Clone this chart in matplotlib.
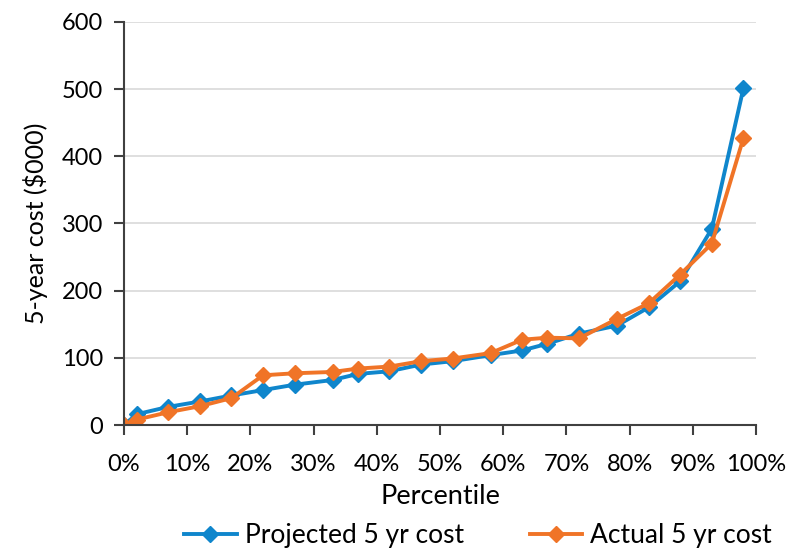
import numpy as np
import matplotlib.pyplot as plt
from matplotlib.ticker import PercentFormatter

# data
percentile = [0, 2, 7, 12, 17, 22, 27, 33, 37, 42, 47, 52, 58, 63, 67, 72, 78, 83, 88, 93, 98]
projected = [0, 16, 27, 35, 44, 52, 60, 67, 76, 80, 90, 95, 104, 111, 121, 136, 148, 175, 214, 292, 501]
actual = [0, 8, 19, 28, 40, 74, 77, 79, 84, 87, 95, 99, 107, 127, 130, 129, 158, 181, 224, 270, 427]

plt.rcParams['font.family'] = ['Lato', 'DejaVu Sans']

fig = plt.figure(figsize=(7.94, 5.52), dpi=100)
ax = fig.add_axes([124/794, 1 - 425/552, (756-124)/794, (425-22)/552])

blue = '#0F86CC'
orange = '#F07427'
ax.plot(percentile, projected, color=blue, lw=2.8, marker='D', ms=8, label='Projected 5 yr cost')
ax.plot(percentile, actual, color=orange, lw=2.8, marker='D', ms=8, label='Actual 5 yr cost')

ax.set_xlim(0, 100)
ax.set_ylim(0, 600)
ax.set_xticks(np.arange(0, 101, 10))
ax.set_yticks(np.arange(0, 601, 100))
ax.xaxis.set_major_formatter(PercentFormatter(decimals=0))
ax.yaxis.grid(True, color='#D9D9D9', lw=1.2)
ax.set_axisbelow(True)
for s in ['top', 'right']:
    ax.spines[s].set_visible(False)
for s in ['left', 'bottom']:
    ax.spines[s].set_color('#404040')
    ax.spines[s].set_linewidth(1.5)
ax.tick_params(axis='both', colors='#404040', labelcolor='black', labelsize=17, length=7, width=1.5)
ax.tick_params(axis='x', pad=14)
ax.tick_params(axis='y', pad=8)

ax.set_xlabel('Percentile', fontsize=19.5, labelpad=6)
ax.set_ylabel('5-year cost ($000)', fontsize=18, labelpad=10)

fig.legend(loc='center', bbox_to_anchor=(478/794, 1 - 536/552), ncol=2, frameon=False,
           fontsize=19, handlelength=2.0, columnspacing=2.5, handletextpad=0.3)

plt.savefig('out.png', dpi=100)
